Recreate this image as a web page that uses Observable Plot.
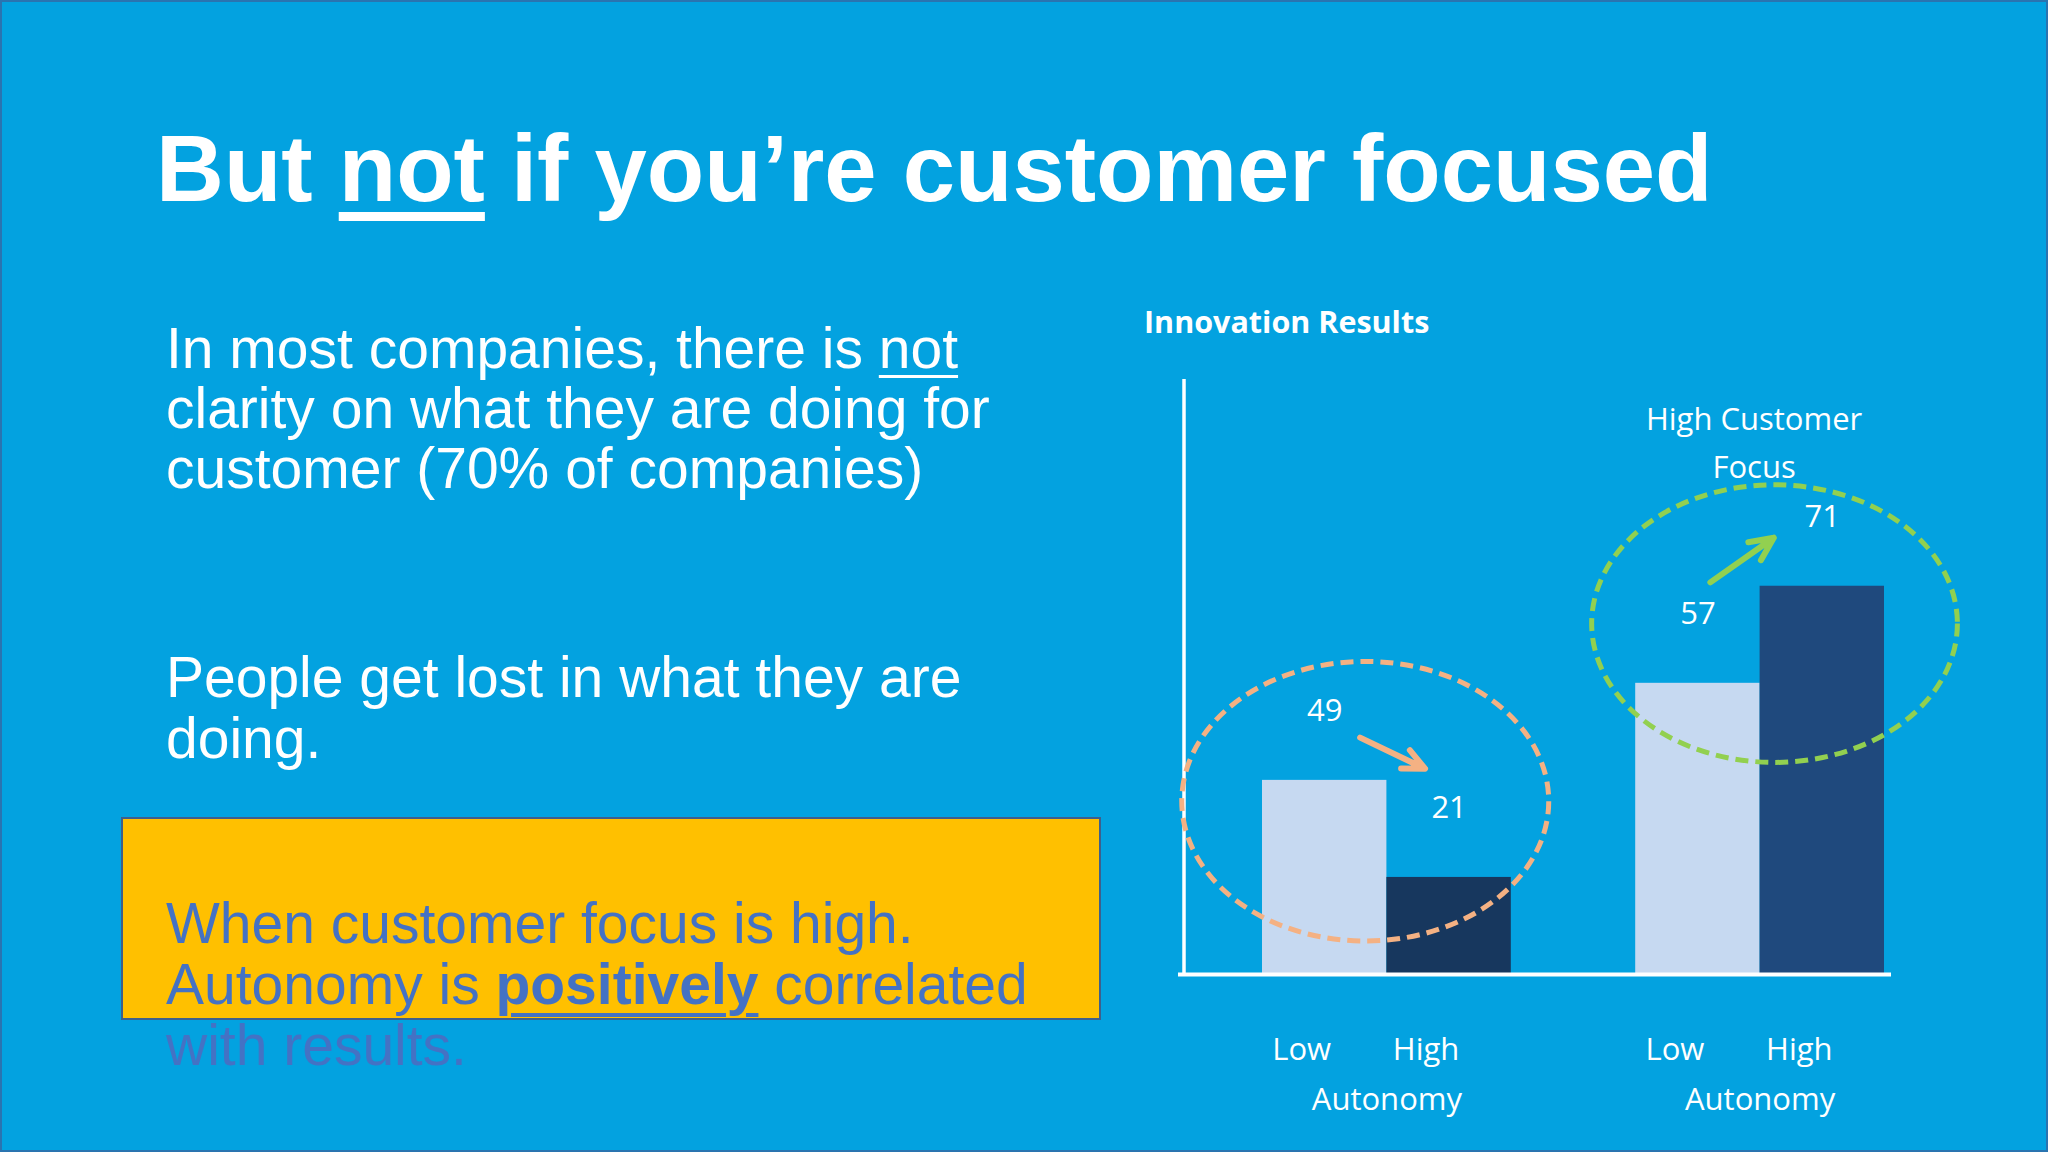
<!DOCTYPE html>
<html>
<head>
<meta charset="utf-8">
<script src="https://cdn.jsdelivr.net/npm/d3@7"></script>
<script src="https://cdn.jsdelivr.net/npm/@observablehq/plot@0.6"></script>
<style>
  html, body { margin: 0; padding: 0; background: #03A2E0; }
  #slide { position: relative; width: 2048px; height: 1152px; overflow: hidden; background: #03A2E0; }
  .t { position: absolute; white-space: nowrap; font-family: "Liberation Sans", Arial, sans-serif; color: #fff; margin: 0; }
  #title { left: 156px; top: 119px; font-size: 94px; line-height: 100px; font-weight: bold; }
  #title u { text-decoration-thickness: 9px; text-underline-offset: 11px; }
  .body { font-size: 57px; }
  #p1 { left: 166px; top: 318.3px; line-height: 60px; }
  #p1 u { text-decoration-thickness: 3px; text-underline-offset: 7px; }
  #p2 { left: 166px; top: 646.8px; line-height: 61px; }
  #box { position: absolute; left: 121px; top: 817px; width: 980px; height: 203px; box-sizing: border-box;
         background: #FFC000; border: 2px solid #3E5F8C; }
  #p3 { left: 166px; top: 892.8px; line-height: 61px; color: #4472C4; }
  #p3 u { text-decoration-thickness: 4px; text-underline-offset: 9px; }
  #ctitle { left: 1144px; top: 301.4px; font-family: "Open Sans", Lato, sans-serif; font-weight: bold; font-size: 30.5px; line-height: 1.362; }
  #chart { position: absolute; left: 1120px; top: 360px; }
  #edge { position: absolute; left: 0; top: 0; width: 2048px; height: 1152px; box-sizing: border-box; border: 2px solid #2A74B0; pointer-events: none; }
</style>
</head>
<body>
<div id="slide">
  <div class="t" id="title">But <u>not</u> if you’re customer focused</div>
  <div class="t body" id="p1">In most companies, there is <u>not</u><br>clarity on what they are doing for<br>customer (70% of companies)</div>
  <div class="t body" id="p2">People get lost in what they are<br>doing.</div>
  <div id="box"></div>
  <div class="t body" id="p3">When customer focus is high.<br>Autonomy is <b><u>positively</u></b> correlated<br>with results.</div>
  <div class="t" id="ctitle">Innovation Results</div>
  <div id="chart"></div>
  <div id="edge"></div>
</div>
<script>
// ---- data ----
const focusGroups = ["Low Customer Focus", "High Customer Focus"];
const autonomyLevels = ["Low", "High"];
const axisTitle = "Autonomy";
const groupNote = "High Customer\nFocus";
// numbers printed above the bars
const scoresLowFocus = [49, 21];
const scoresHighFocus = [57, 71];
// heights of the bars as drawn on the slide (stepped 2 : 1 : 3 : 4, not to scale with the printed numbers)
const barsLowFocus = [2, 1];
const barsHighFocus = [3, 4];
// hand-drawn annotations (data units: x in bar slots, y in bar-height units)
const ellipseCx = [0.33, 3.62];
const ellipseCy = [1.78, 3.61];
const ellipseRx = [1.475, 1.47];
const ellipseRy = [1.44, 1.43];
const arrowX1 = [0.285, 3.10];
const arrowY1 = [2.44, 4.04];
const arrowX2 = [0.807, 3.61];
const arrowY2 = [2.12, 4.50];

// ---- tables built from the arrays ----
const scores = [scoresLowFocus, scoresHighFocus];
const heights = [barsLowFocus, barsHighFocus];
const bars = [];
focusGroups.forEach((g, gi) => autonomyLevels.forEach((a, ai) => {
  bars.push({group: g, autonomy: a, key: g + " / " + a, slot: gi * 3 + ai, score: scores[gi][ai], level: heights[gi][ai]});
}));
const groups = focusGroups.map((g, gi) => ({group: g, center: gi * 3 + 0.5}));
const annotations = focusGroups.map((g, i) => ({
  group: g, cx: ellipseCx[i], cy: ellipseCy[i], rx: ellipseRx[i], ry: ellipseRy[i],
  x1: arrowX1[i], y1: arrowY1[i], x2: arrowX2[i], y2: arrowY2[i]
}));
const annoColors = {"Low Customer Focus": "#F4B183", "High Customer Focus": "#92D050"};

const font = "'Open Sans', Lato, sans-serif";

// vertical axis line at the left edge of the frame
function leftAxis(index, scales, values, dims) {
  const {marginLeft, marginTop, height, marginBottom} = dims;
  return d3.create("svg:line")
    .attr("x1", marginLeft).attr("x2", marginLeft)
    .attr("y1", marginTop).attr("y2", height - marginBottom)
    .attr("stroke", "white").attr("stroke-width", 3.5).node();
}

// dashed ellipses, positioned through the plot's scales
function ellipses(index, scales) {
  const g = d3.create("svg:g").attr("fill", "none").attr("stroke-width", 5).attr("stroke-dasharray", "13 7");
  for (const e of annotations) {
    const cx = scales.x(e.cx), cy = scales.y(e.cy);
    g.append("ellipse")
      .attr("cx", cx).attr("cy", cy)
      .attr("rx", Math.abs(scales.x(e.cx + e.rx) - cx))
      .attr("ry", Math.abs(scales.y(e.cy + e.ry) - cy))
      .attr("stroke", annoColors[e.group]);
  }
  return g.node();
}

const chart = Plot.plot({
  width: 880,
  height: 790,
  marginLeft: 64,
  marginRight: 109,
  marginTop: 19,
  marginBottom: 176,
  x: {type: "linear", domain: [-0.5, 4.5], insetLeft: 78, insetRight: 7, axis: null},
  y: {domain: [0, 6.13], axis: null},
  color: {type: "ordinal", domain: bars.map(d => d.key), range: ["#C6D9F1", "#17375E", "#C6D9F1", "#1F497D"]},
  style: {background: "transparent", overflow: "visible", fontFamily: font, color: "white"},
  marks: [
    Plot.rect(bars, {x1: d => d.slot - 0.5, x2: d => d.slot + 0.5, y1: () => 0, y2: "level", fill: "key"}),
    Plot.ruleY([0], {stroke: "white", strokeWidth: 4, insetLeft: -6}),
    leftAxis,
    ellipses,
    Plot.arrow(annotations, {x1: "x1", y1: "y1", x2: "x2", y2: "y2",
      stroke: d => annoColors[d.group], strokeWidth: 6, headAngle: 50, headLength: 8}),
    Plot.text(bars, {x: "slot", y: "level", text: d => String(d.score), dy: -69, lineAnchor: "middle",
      fill: "white", fontSize: 31, fontFamily: font}),
    Plot.text(bars, {x: "slot", text: "autonomy", frameAnchor: "bottom", lineAnchor: "middle", dy: 76, dx: -23,
      fill: "white", fontSize: 31, fontFamily: font}),
    Plot.text(groups, {x: "center", text: () => axisTitle, frameAnchor: "bottom", lineAnchor: "middle", dy: 125.5,
      fill: "white", fontSize: 31, fontFamily: font}),
    Plot.text([groups[1]], {x: "center", text: () => groupNote, frameAnchor: "top", lineAnchor: "middle", dy: 59, dx: -6,
      lineHeight: 1.56, fill: "white", fontSize: 31, fontFamily: font})
  ]
});
document.getElementById("chart").appendChild(chart);
</script>
</body>
</html>
